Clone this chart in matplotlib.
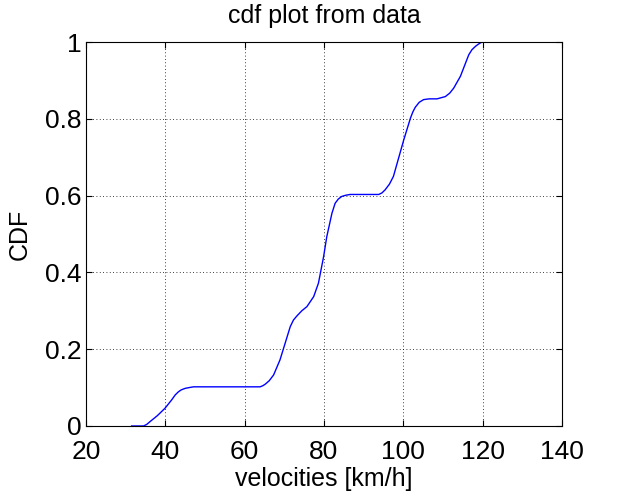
import matplotlib
matplotlib.use("Agg")
import matplotlib.pyplot as plt

plt.rcParams['font.family'] = ['Liberation Sans', 'DejaVu Sans']

velocities = [31.5, 34.5, 35.3, 36.1, 38.0, 39.9, 41.6, 42.5, 43.3, 44.0, 45.0,
              46.0, 47.1, 55.0, 63.9, 64.6, 65.2, 66.2, 67.3, 68.9, 69.8,
              71.5, 72.3, 73.2, 74.4, 75.7, 77.4, 78.6, 79.9, 80.7, 82.0,
              82.8, 83.6, 84.5, 85.5, 86.6, 93.8, 94.6, 95.4, 96.5, 97.5,
              100.1, 101.8, 102.4, 103.0, 104.0, 105.1, 106.5, 108.5, 110.6,
              111.7, 112.7, 114.4, 116.5, 117.3, 118.2, 119.0, 119.8]
cdf = [0.0, 0.0, 0.004, 0.011, 0.027, 0.046, 0.068, 0.081, 0.089, 0.094, 0.098,
       0.100, 0.102, 0.102, 0.102, 0.105, 0.109, 0.118, 0.133, 0.172, 0.202,
       0.259, 0.276, 0.287, 0.300, 0.311, 0.337, 0.372, 0.441, 0.493, 0.554,
       0.580, 0.591, 0.598, 0.601, 0.603, 0.603, 0.607, 0.615, 0.630, 0.650,
       0.745, 0.802, 0.818, 0.830, 0.843, 0.850, 0.852, 0.852, 0.858,
       0.867, 0.880, 0.911, 0.967, 0.980, 0.989, 0.995, 1.0]

x_ticks = [20, 40, 60, 80, 100, 120, 140]
y_ticks = [0, 0.2, 0.4, 0.6, 0.8, 1]
y_tick_labels = ['0', '0.2', '0.4', '0.6', '0.8', '1']

fig = plt.figure(figsize=(6.29, 4.91), dpi=100)
ax = fig.add_axes([0.1367, 0.1324, 0.7568, 0.782])
ax.plot(velocities, cdf, color=(0, 0, 1), lw=1.0)
ax.set_xlim(20, 140)
ax.set_ylim(0, 1)
ax.set_xticks(x_ticks)
ax.set_yticks(y_ticks)
ax.set_yticklabels(y_tick_labels)
ax.grid(True, linestyle=(0, (1, 3)), color='black', linewidth=0.6)
ax.tick_params(direction='in', top=True, right=True, labelsize=19, length=4)
ax.tick_params(axis='x', pad=10)
ax.tick_params(axis='y', pad=3)
for s in ax.spines.values():
    s.set_linewidth(0.8)
ax.set_title('cdf plot from data', fontsize=18, pad=14)
ax.set_xlabel('velocities [km/h]', fontsize=18, labelpad=2)
ax.set_ylabel('CDF', fontsize=18, labelpad=10)
fig.savefig('out.png', dpi=100)
